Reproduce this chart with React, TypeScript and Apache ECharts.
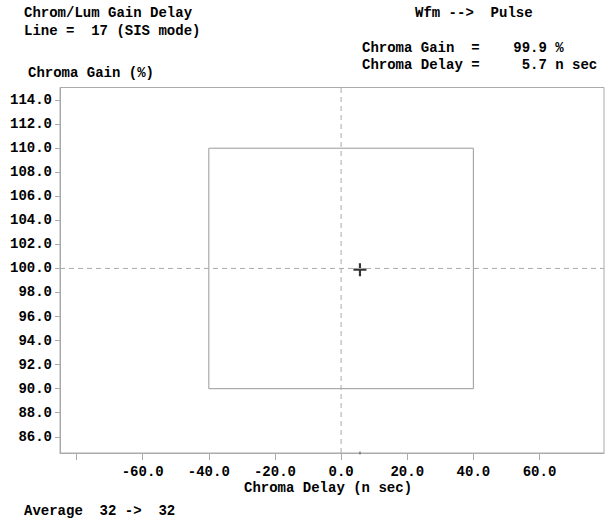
import React, { useEffect, useRef } from "react";
import * as echarts from "echarts";

// ---- data ----
const xRange = [-85, 79.5];
const yRange = [84.65, 115.05];
const xTickValues = [-80, -60, -40, -20, 0, 20, 40, 60];
const xLabelValues = [-60, -40, -20, 0, 20, 40, 60];
const yTickValues = [86, 88, 90, 92, 94, 96, 98, 100, 102, 104, 106, 108, 110, 112, 114];
const limitBox = [[-40, 90], [40, 90], [40, 110], [-40, 110], [-40, 90]];
const targetDelay = 0;
const targetGain = 100;
const measured = [[5.7, 99.9]];

const titleLines = ["Chrom/Lum Gain Delay", "Line =  17 (SIS mode)"];
const wfmText = "Wfm -->  Pulse";
const resultLines = ["Chroma Gain  =    99.9 %", "Chroma Delay =     5.7 n sec"];
const yName = "Chroma Gain (%)";
const xName = "Chroma Delay (n sec)";
const footer = "Average  32 ->  32";

const FONT = "'Liberation Mono', 'DejaVu Sans Mono', monospace";

function txt(text: string, x: number, y: number) {
  return {
    type: "text",
    left: x,
    top: y,
    style: {
      text,
      font: `bold 14px ${FONT}`,
      fill: "#000",
    },
  };
}

export default function App() {
  const ref = useRef<HTMLDivElement>(null);
  useEffect(() => {
    document.body.style.margin = "0";
    const chart = echarts.init(ref.current!, null, { renderer: "svg" });
    chart.setOption({
      animation: false,
      backgroundColor: "#fff",
      grid: {
        left: 60,
        right: 6,
        top: 87.5,
        bottom: 66,
        show: true,
        borderColor: "#aaa",
        borderWidth: 1,
        containLabel: false,
      },
      xAxis: {
        type: "value",
        min: xRange[0],
        max: xRange[1],
        axisLine: { show: true, onZero: false, lineStyle: { color: "#aaa" } },
        axisTick: {
          show: true,
          length: 7,
          customValues: xTickValues,
          lineStyle: { color: "#aaa" },
        },
        axisLabel: {
          customValues: xLabelValues,
          formatter: (v: number) => v.toFixed(1),
          color: "#000",
          fontFamily: FONT,
          fontWeight: "bold",
          fontSize: 14,
          margin: 12,
        },
        splitLine: { show: false },
      },
      yAxis: {
        type: "value",
        min: yRange[0],
        max: yRange[1],
        axisLine: { show: true, onZero: false, lineStyle: { color: "#aaa" } },
        axisTick: {
          show: true,
          length: 5,
          customValues: yTickValues,
          lineStyle: { color: "#aaa" },
        },
        axisLabel: {
          customValues: yTickValues,
          formatter: (v: number) => v.toFixed(1),
          color: "#000",
          fontFamily: FONT,
          fontWeight: "bold",
          fontSize: 14,
          margin: 8,
        },
        splitLine: { show: false },
      },
      series: [
        {
          type: "line",
          data: limitBox,
          symbol: "none",
          lineStyle: { color: "#999", width: 1 },
          silent: true,
        },
        {
          type: "line",
          data: [[targetDelay, yRange[0]], [targetDelay, yRange[1]]],
          symbol: "none",
          lineStyle: { color: "#aaa", width: 1, type: [5, 4] },
          silent: true,
        },
        {
          type: "line",
          data: [[xRange[0], targetGain], [xRange[1], targetGain]],
          symbol: "none",
          lineStyle: { color: "#aaa", width: 1, type: [5, 4] },
          silent: true,
        },
        {
          type: "scatter",
          data: measured,
          symbol: "path://M5,0H7V5H12V7H7V12H5V7H0V5H5Z",
          symbolSize: [13, 13],
          itemStyle: { color: "#000" },
          silent: true,
        },
        {
          type: "scatter",
          data: measured.map((p) => [p[0], yRange[0]]),
          symbol: "rect",
          symbolSize: [1.5, 3],
          itemStyle: { color: "#666" },
          silent: true,
        },
      ],
      graphic: [
        txt(titleLines[0], 24, 6),
        txt(titleLines[1], 24, 24),
        txt(wfmText, 415, 6),
        txt(resultLines[0], 362, 41),
        txt(resultLines[1], 362, 58),
        txt(yName, 28, 66),
        txt(xName, 244, 481),
        txt(footer, 24, 504),
      ],
    });
    return () => chart.dispose();
  }, []);
  return (
    <div
      ref={ref}
      style={{ position: "absolute", left: 0, top: 0, width: 610, height: 519 }}
    />
  );
}
